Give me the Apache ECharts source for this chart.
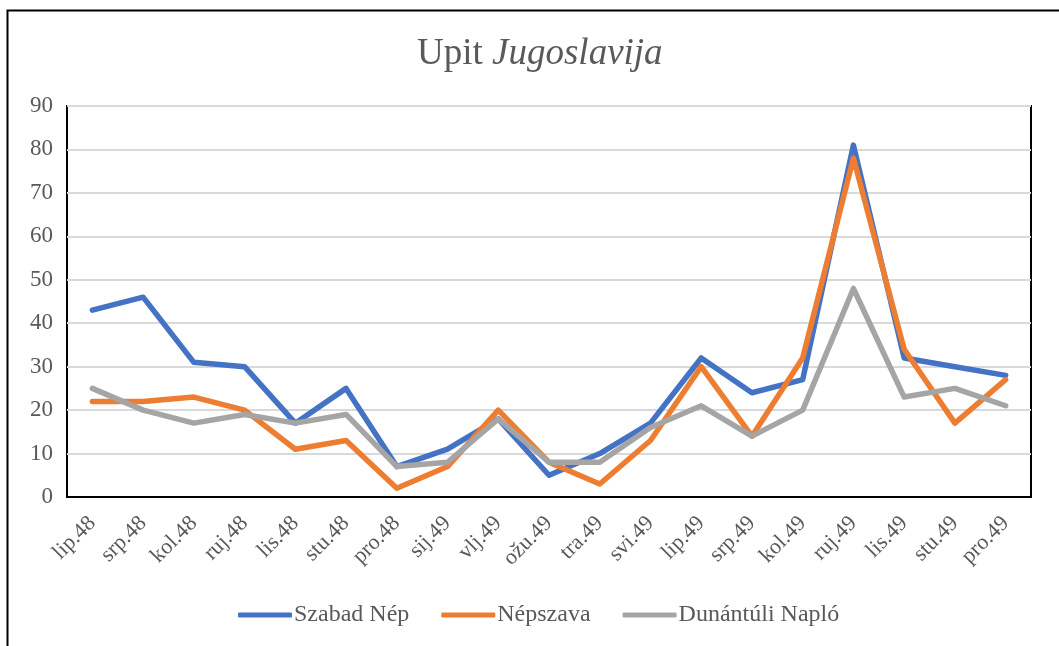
<!DOCTYPE html>
<html>
<head>
<meta charset="utf-8">
<script src="https://cdn.jsdelivr.net/npm/echarts@6/dist/echarts.min.js"></script>
<style>
  html, body { margin: 0; padding: 0; background: #fff; }
  #chart { width: 1059px; height: 646px; }
</style>
</head>
<body>
<div id="chart"></div>
<script>
// podaci
var months = ['lip.48', 'srp.48', 'kol.48', 'ruj.48', 'lis.48', 'stu.48', 'pro.48', 'sij.49', 'vlj.49', 'ožu.49',
  'tra.49', 'svi.49', 'lip.49', 'srp.49', 'kol.49', 'ruj.49', 'lis.49', 'stu.49', 'pro.49'];
var szabadNep = [43, 46, 31, 30, 17, 25, 7, 11, 18, 5, 10, 17, 32, 24, 27, 81, 32, 30, 28];
var nepszava = [22, 22, 23, 20, 11, 13, 2, 7, 20, 8, 3, 13, 30, 14, 32, 78, 34, 17, 27];
var dunantuliNaplo = [25, 20, 17, 19, 17, 19, 7, 8, 18, 8, 8, 16, 21, 14, 20, 48, 23, 25, 21];
var seriesNames = ['Szabad Nép', 'Népszava', 'Dunántúli Napló'];
var yTicks = [0, 10, 20, 30, 40, 50, 60, 70, 80, 90];

var serif = '"Liberation Serif", "DejaVu Serif", serif';
var colors = ['#4472C4', '#ED7D31', '#A5A5A5'];

var chart = echarts.init(document.getElementById('chart'));

function lineSeries(name, data) {
  return {
    name: name,
    type: 'line',
    data: data,
    symbol: 'none',
    lineStyle: { width: 5.5, cap: 'round', join: 'round' },
    emphasis: { disabled: true }
  };
}

var option = {
  backgroundColor: '#fff',
  color: colors,
  animation: false,
  title: {
    text: '{n|Upit }{i|Jugoslavija}',
    left: 412,
    top: 31,
    textStyle: {
      rich: {
        n: { fontFamily: serif, fontSize: 37, fontWeight: 'normal', color: '#595959' },
        i: { fontFamily: serif, fontSize: 37, fontWeight: 'normal', color: '#595959', fontStyle: 'italic' }
      }
    }
  },
  graphic: [{
    type: 'rect',
    shape: { x: 7.5, y: 10.5, width: 1200, height: 800 },
    style: { fill: 'none', stroke: '#000', lineWidth: 2 },
    silent: true
  }],
  legend: {
    data: seriesNames,
    bottom: 14,
    left: 233,
    itemWidth: 54,
    itemHeight: 5,
    itemGap: 32,
    icon: 'roundRect',
    textStyle: { fontFamily: serif, fontSize: 24, color: '#595959', padding: [0, 0, 0, -3] }
  },
  grid: {
    left: 67, right: 28, top: 106, bottom: 149,
    show: true,
    borderColor: '#000',
    borderWidth: 2,
    containLabel: false
  },
  xAxis: {
    type: 'category',
    data: months,
    boundaryGap: true,
    axisLine: { show: true, lineStyle: { color: '#000', width: 2 } },
    axisTick: { show: false },
    axisLabel: {
      rotate: 45,
      interval: 0,
      margin: 23,
      fontFamily: serif,
      fontSize: 22,
      color: '#595959'
    }
  },
  yAxis: {
    type: 'value',
    min: yTicks[0],
    max: yTicks[yTicks.length - 1],
    interval: 10,
    axisLine: { show: false },
    axisTick: { show: false },
    splitLine: { lineStyle: { color: '#D9D9D9', width: 2 } },
    axisLabel: {
      margin: 14,
      fontFamily: serif,
      fontSize: 23,
      color: '#595959'
    }
  },
  series: [
    lineSeries(seriesNames[0], szabadNep),
    lineSeries(seriesNames[1], nepszava),
    lineSeries(seriesNames[2], dunantuliNaplo)
  ]
};

chart.setOption(option);
</script>
</body>
</html>
